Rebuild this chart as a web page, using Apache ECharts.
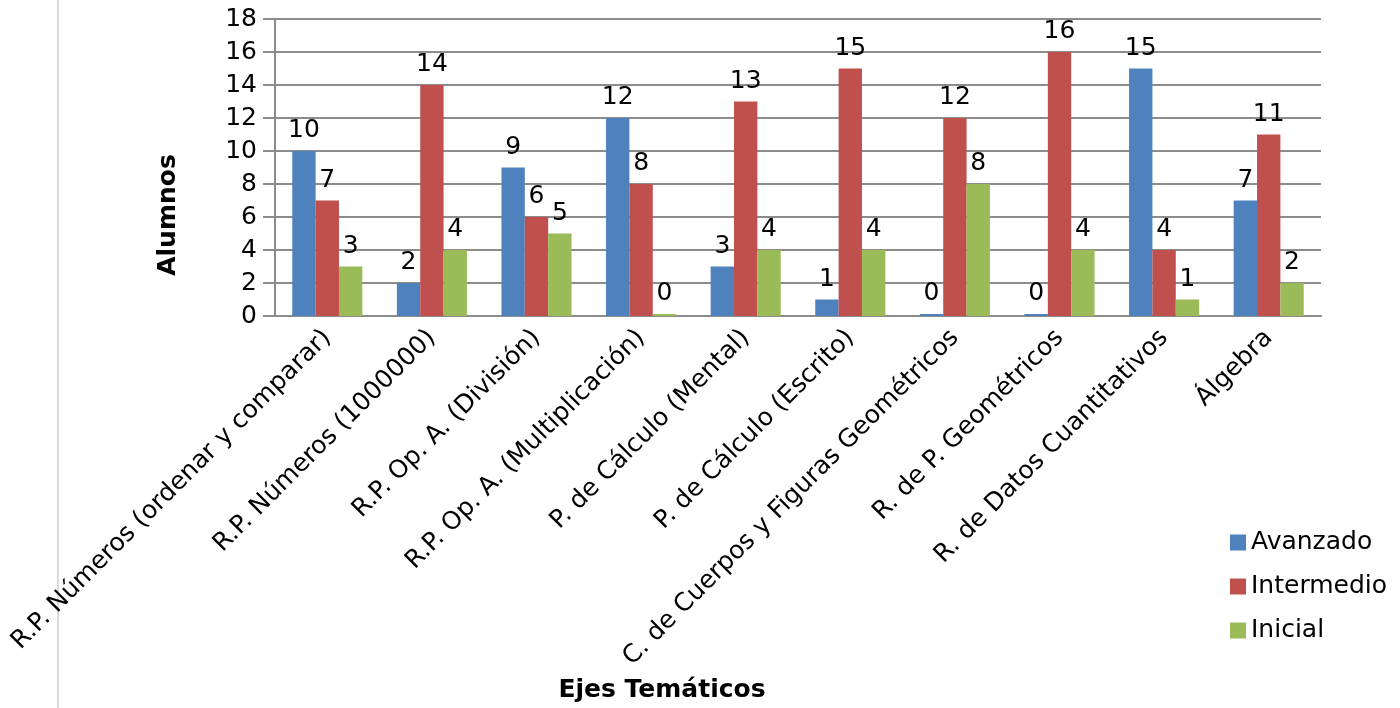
<!DOCTYPE html>
<html>
<head>
<meta charset="utf-8">
<script src="https://cdn.jsdelivr.net/npm/echarts@6/dist/echarts.min.js"></script>
<style>
  html, body { margin: 0; padding: 0; background: #fff; }
  #chart { width: 1400px; height: 708px; }
</style>
</head>
<body>
<div id="chart"></div>
<script>
// Thematic axes and student counts per performance level
const categories = [
  'R.P. Números (ordenar y comparar)',
  'R.P. Números (1000000)',
  'R.P. Op. A. (División)',
  'R.P. Op. A. (Multiplicación)',
  'P. de Cálculo (Mental)',
  'P. de Cálculo (Escrito)',
  'C. de Cuerpos y Figuras Geométricos',
  'R. de P. Geométricos',
  'R. de Datos Cuantitativos',
  'Álgebra'
];
const avanzado   = [10, 2, 9, 12, 3, 1, 0, 0, 15, 7];
const intermedio = [7, 14, 6, 8, 13, 15, 12, 16, 4, 11];
const inicial    = [3, 4, 5, 0, 4, 4, 8, 4, 1, 2];
const yTicks = { min: 0, max: 18, interval: 2 };

const FONT = 'DejaVu Sans';
const FS = 25;
const chart = echarts.init(document.getElementById('chart'), null, { renderer: 'canvas' });

function barSeries(name, data, color) {
  return {
    name: name,
    type: 'bar',
    data: data,
    barGap: '0%',
    barCategoryGap: '33%',
    barMinHeight: 2,
    itemStyle: { color: color },
    label: {
      show: true,
      position: 'top',
      distance: 8,
      color: '#000',
      fontFamily: FONT,
      fontSize: FS
    }
  };
}

chart.setOption({
  animation: false,
  textStyle: { fontFamily: FONT },
  grid: {
    left: 275, right: 79, top: 19, bottom: 392,
    containLabel: false,
    outerBoundsMode: 'none'
  },
  legend: {
    orient: 'vertical',
    left: 1225,
    top: 525,
    itemWidth: 16,
    itemHeight: 16,
    itemGap: 19,
    icon: 'rect',
    textStyle: { fontFamily: FONT, fontSize: FS, color: '#000' },
    data: ['Avanzado', 'Intermedio', 'Inicial']
  },
  xAxis: {
    type: 'category',
    data: categories,
    axisLine: { show: true, lineStyle: { color: '#8c8c8c', width: 2 } },
    axisTick: { show: false },
    axisLabel: {
      interval: 0,
      rotate: 45,
      margin: 18,
      color: '#000',
      fontFamily: FONT,
      fontSize: FS
    }
  },
  yAxis: {
    type: 'value',
    min: yTicks.min,
    max: yTicks.max,
    interval: yTicks.interval,
    axisLine: { show: true, lineStyle: { color: '#8c8c8c', width: 2 } },
    axisTick: { show: true, inside: false, length: 12, lineStyle: { color: '#8c8c8c', width: 2 } },
    splitLine: { show: true, lineStyle: { color: '#8c8c8c', width: 2 } },
    axisLabel: {
      margin: 18,
      color: '#000',
      fontFamily: FONT,
      fontSize: FS
    }
  },
  graphic: [
    {
      type: 'line',
      shape: { x1: 58, y1: 0, x2: 58, y2: 708 },
      style: { stroke: '#dcdcdc', lineWidth: 2 }
    },
    {
      type: 'text',
      x: 168,
      y: 215,
      rotation: Math.PI / 2,
      style: {
        text: 'Alumnos',
        fontFamily: FONT,
        fontWeight: 'bold',
        fontSize: FS,
        fill: '#000',
        align: 'center',
        verticalAlign: 'middle'
      }
    },
    {
      type: 'text',
      x: 662,
      y: 690,
      style: {
        text: 'Ejes Temáticos',
        fontFamily: FONT,
        fontWeight: 'bold',
        fontSize: FS,
        fill: '#000',
        align: 'center',
        verticalAlign: 'middle'
      }
    }
  ],
  series: [
    barSeries('Avanzado', avanzado, '#4F81BD'),
    barSeries('Intermedio', intermedio, '#C0504D'),
    barSeries('Inicial', inicial, '#9BBB59')
  ]
});
</script>
</body>
</html>
